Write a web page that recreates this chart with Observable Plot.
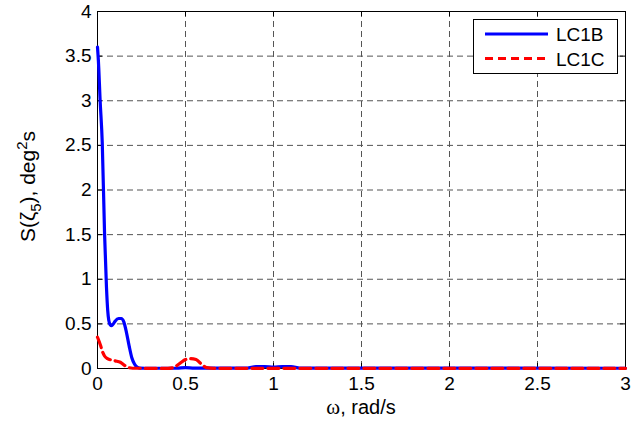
<!DOCTYPE html>
<html>
<head>
<meta charset="utf-8">
<script src="https://cdn.jsdelivr.net/npm/d3@7"></script>
<script src="https://cdn.jsdelivr.net/npm/@observablehq/plot@0.6"></script>
<style>
  html, body { margin: 0; padding: 0; background: #fff; }
  #chart { width: 632px; height: 421px; }
</style>
</head>
<body>
<div id="chart"></div>
<script>
// ---- data ----
const omegaB = [0, 0.005, 0.015, 0.027, 0.04, 0.051, 0.058, 0.064, 0.072, 0.08, 0.09, 0.10, 0.12, 0.135, 0.15, 0.165, 0.18, 0.195, 0.21, 0.225, 0.24, 0.3, 0.45, 0.5, 0.55, 0.85, 0.9, 0.95, 1.0, 1.05, 1.1, 1.15, 3.0];
const valuesB = [3.6, 3.45, 3.0, 2.53, 1.52, 0.91, 0.65, 0.54, 0.49, 0.48, 0.5, 0.53, 0.56, 0.56, 0.52, 0.4, 0.25, 0.12, 0.05, 0.015, 0.005, 0.003, 0.003, 0.01, 0.005, 0.005, 0.02, 0.02, 0.015, 0.02, 0.02, 0.005, 0.003];
const omegaC = [0, 0.01, 0.017, 0.03, 0.04, 0.057, 0.08, 0.10, 0.13, 0.15, 0.17, 0.2, 0.4, 0.43, 0.47, 0.5, 0.53, 0.56, 0.59, 0.62, 0.66, 3.0];
const valuesC = [0.35, 0.3, 0.26, 0.18, 0.14, 0.11, 0.095, 0.085, 0.07, 0.04, 0.015, 0.003, 0.002, 0.01, 0.06, 0.1, 0.11, 0.1, 0.05, 0.01, 0.002, 0.002];
const seriesNames = ["LC1B", "LC1C"];
const seriesColors = ["#0000ff", "#ff0000"];
const xTicks = [0, 0.5, 1, 1.5, 2, 2.5, 3];
const yTicks = [0, 0.5, 1, 1.5, 2, 2.5, 3, 3.5, 4];

const dataB = omegaB.map((w, i) => ({w, v: valuesB[i]}));
const dataC = omegaC.map((w, i) => ({w, v: valuesC[i]}));

const W = 632, H = 421, mL = 97, mR = 7, mT = 11, mB = 53;
const plotH = H - mT - mB;
const plotW = W - mL - mR;
const FONT = "'Liberation Sans', Arial, sans-serif";
const gridStyle = {stroke: "#555", strokeOpacity: 1, strokeWidth: 1, strokeDasharray: "6,4"};

const svg = Plot.plot({
  width: W, height: H,
  marginLeft: mL, marginRight: mR, marginTop: mT, marginBottom: mB,
  x: {domain: [0, 3]},
  y: {domain: [0, 4]},
  style: {fontFamily: FONT, fontSize: "19px", background: "white", color: "black"},
  marks: [
    Plot.gridX(xTicks, gridStyle),
    Plot.gridY(yTicks, gridStyle),
    Plot.axisX(xTicks, {tickSize: 0, tickPadding: 8, label: null, fontSize: 19, tickFormat: d => String(d)}),
    Plot.axisY(yTicks, {tickSize: 0, tickPadding: 6, label: null, fontSize: 19, tickFormat: d => String(d)}),
    Plot.tickX(xTicks, {x: d => d, stroke: "black", insetTop: plotH - 5}),
    Plot.tickX(xTicks, {x: d => d, stroke: "black", insetBottom: plotH - 5}),
    Plot.tickY(yTicks, {y: d => d, stroke: "black", insetRight: plotW - 5}),
    Plot.tickY(yTicks, {y: d => d, stroke: "black", insetLeft: plotW - 5}),
    Plot.frame({stroke: "black", strokeWidth: 1}),
    Plot.line(dataB, {x: "w", y: "v", stroke: seriesColors[0], strokeWidth: 3.2, curve: "monotone-x"}),
    Plot.line(dataC, {x: "w", y: "v", stroke: seriesColors[1], strokeWidth: 3.2, strokeDasharray: "11,5", curve: "monotone-x"})
  ]
});

const s = d3.select(svg);

// y axis label
const yl = s.append("text")
  .attr("transform", `translate(35,${mT + plotH / 2 - 3}) rotate(-90)`)
  .attr("text-anchor", "middle")
  .attr("font-family", FONT)
  .attr("font-size", 21)
  .attr("fill", "black");
yl.append("tspan").text("S(ζ");
yl.append("tspan").attr("font-size", 15).attr("dy", 6).text("5");
yl.append("tspan").attr("dy", -6).text("), deg");
yl.append("tspan").attr("font-size", 15).attr("dy", -8).text("2");
yl.append("tspan").attr("dy", 8).text("s");

// x axis label
const xl = s.append("text")
  .attr("x", mL + plotW / 2)
  .attr("y", 414)
  .attr("text-anchor", "middle")
  .attr("font-family", FONT)
  .attr("font-size", 20)
  .attr("fill", "black");
xl.append("tspan").attr("font-family", "'Liberation Serif', 'Times New Roman', serif").attr("font-size", 21).text("ω");
xl.append("tspan").text(", rad/s");

// legend
const lg = s.append("g");
lg.append("rect").attr("x", 473.5).attr("y", 19.5).attr("width", 144).attr("height", 54)
  .attr("fill", "white").attr("stroke", "black").attr("stroke-width", 1);
seriesNames.forEach((name, i) => {
  const yy = 34 + i * 24.5;
  lg.append("line").attr("x1", 485).attr("x2", 548).attr("y1", yy).attr("y2", yy)
    .attr("stroke", seriesColors[i]).attr("stroke-width", 3)
    .attr("stroke-dasharray", i === 1 ? "8,5" : null);
  lg.append("text").attr("x", 556).attr("y", yy + 7)
    .attr("text-anchor", "start")
    .attr("font-family", FONT).attr("font-size", 19)
    .attr("fill", "black").text(name);
});

document.getElementById("chart").appendChild(svg);
</script>
</body>
</html>
